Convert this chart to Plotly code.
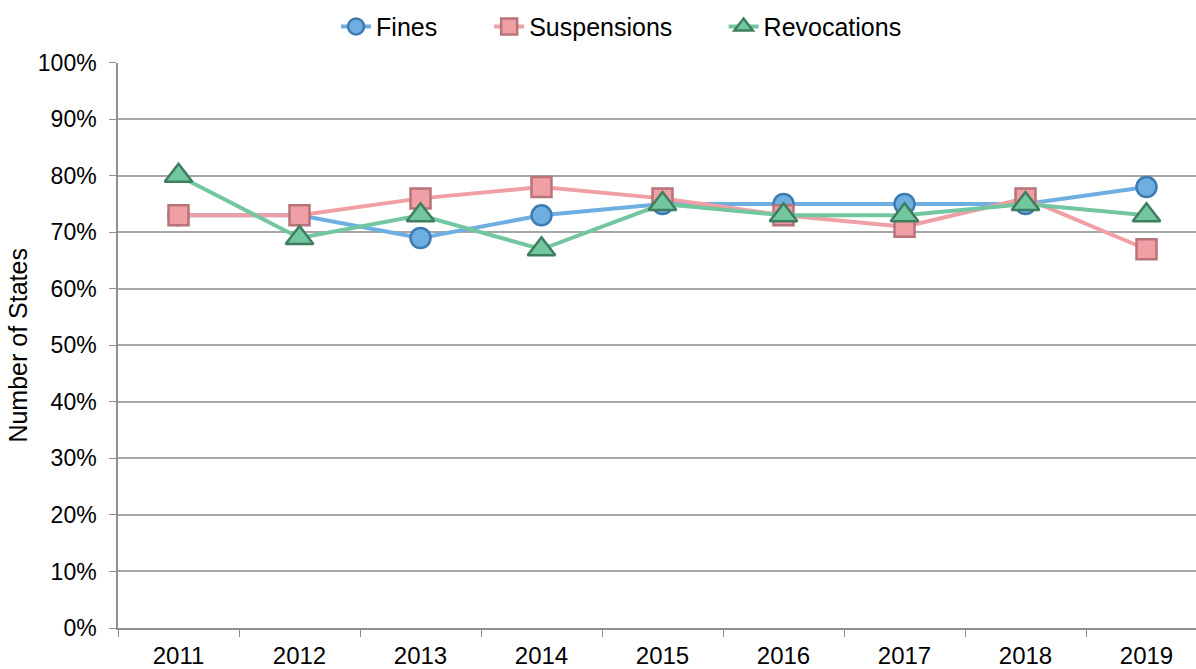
import plotly.graph_objects as go

years = ["2011", "2012", "2013", "2014", "2015", "2016", "2017", "2018", "2019"]
fines = [73, 73, 69, 73, 75, 75, 75, 75, 78]
suspensions = [73, 73, 76, 78, 76, 73, 71, 76, 67]
revocations = [80, 69, 73, 67, 75, 73, 73, 75, 73]

y_ticks = list(range(0, 101, 10))
y_tick_labels = [f"{v}%" for v in y_ticks]

# name, values, symbol, line colour, fill, edge, marker size, legend id, legend x
series = [
    ("Fines", fines, "circle", "#6FAEE0", "#6FAEE0", "#3F7AB0", 20, "legend", 0.281),
    ("Suspensions", suspensions, "square", "#F0A0A4", "#F0A0A4", "#B8737A", 20, "legend2", 0.409),
    ("Revocations", revocations, "triangle-up", "#72C6A0", "#72C6A0", "#3E7E5E", 24, "legend3", 0.605),
]

family = "Liberation Sans, Arial, sans-serif"
ytick_font = dict(family=family, size=23, color="#000000")
xtick_font = dict(family=family, size=24, color="#000000")
legend_font = dict(family=family, size=25, color="#000000")
title_font = dict(family=family, size=25, color="#000000")

fig = go.Figure()
legends = {}
for name, vals, symbol, line_color, fill, edge, size, leg, lx in series:
    fig.add_trace(go.Scatter(
        x=years, y=vals, name=name, mode="lines+markers", legend=leg,
        line=dict(color=line_color, width=4),
        marker=dict(symbol=symbol, size=size, color=fill,
                    line=dict(color=edge, width=2.5)),
    ))
    legends[leg] = dict(orientation="h", x=lx, xanchor="left", xref="container",
                        y=0.96, yanchor="middle", yref="container",
                        font=legend_font, bgcolor="rgba(0,0,0,0)")

fig.update_layout(
    width=1196, height=669,
    margin=dict(l=118, r=0, t=61, b=39),
    plot_bgcolor="white", paper_bgcolor="white",
    font=dict(family=family),
    showlegend=True,
    **legends,
    xaxis=dict(type="category", range=[-0.5, 8.409], showgrid=False,
               tickson="boundaries", ticks="outside", ticklen=7, tickcolor="#909090",
               showline=True, linecolor="#909090", linewidth=1.5,
               tickfont=xtick_font, ticklabelstandoff=5, zeroline=False),
    yaxis=dict(range=[0, 100], tickvals=y_ticks, ticktext=y_tick_labels,
               showgrid=True, gridcolor="#A6A6A6", gridwidth=1.5,
               ticks="outside", ticklen=7, tickcolor="#909090",
               showline=True, linecolor="#909090", linewidth=1.5,
               tickfont=ytick_font, ticklabelstandoff=8, zeroline=False,
               title=dict(text="Number of States", font=title_font, standoff=3)),
)

fig.write_html("out.html")
